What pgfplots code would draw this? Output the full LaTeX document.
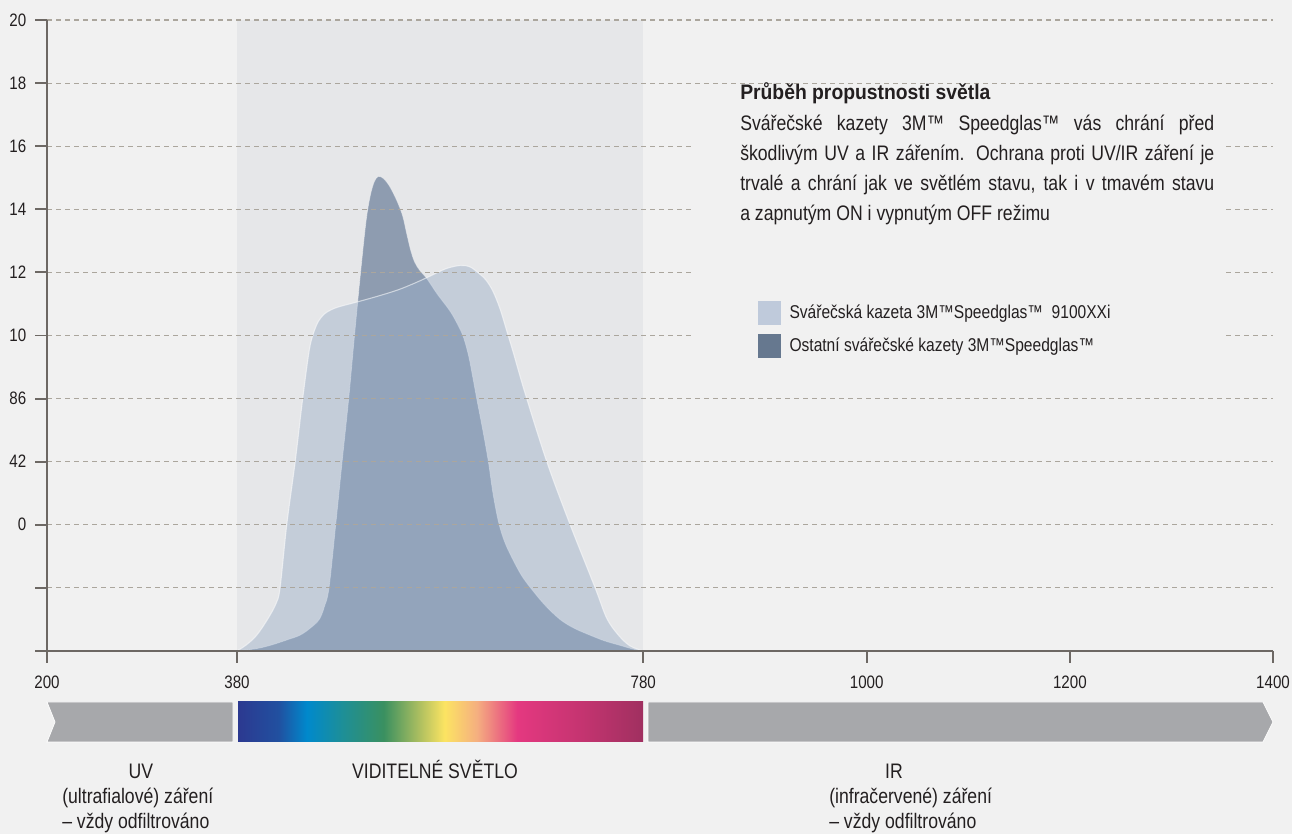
\documentclass[border=0pt]{standalone}
\usepackage{fontspec}
\setmainfont{Liberation Sans}[FakeStretch=0.84, BoldFeatures={FakeStretch=0.92}]
\usepackage{pgfplots}
\pgfplotsset{compat=1.18}
\definecolor{bg}{HTML}{F1F1F1}
\definecolor{bandcol}{HTML}{E6E7E9}
\definecolor{gridcol}{HTML}{ABA69D}
\definecolor{axiscol}{HTML}{6D6864}
\definecolor{txt}{HTML}{231F20}
\definecolor{lightbase}{HTML}{D5D6DB}
\definecolor{lightover}{HTML}{A0B9D7}
\definecolor{darkfill}{HTML}{8E9CB0}
\definecolor{legLight}{HTML}{BFCADB}
\definecolor{legDark}{HTML}{66788F}
\definecolor{barcol}{HTML}{A7A8AB}
\definecolor{sp0}{HTML}{2C3990}
\definecolor{sp1}{HTML}{2150A0}
\definecolor{sp2}{HTML}{0089CC}
\definecolor{sp3}{HTML}{1E8F96}
\definecolor{sp4}{HTML}{3A9060}
\definecolor{sp5}{HTML}{B0C060}
\definecolor{sp6}{HTML}{FCE462}
\definecolor{sp7}{HTML}{F5AF80}
\definecolor{sp8}{HTML}{E43880}
\definecolor{sp9}{HTML}{C43470}
\definecolor{sp10}{HTML}{A03060}
\pgfdeclarehorizontalshading{spectrum}{100bp}{color(0bp)=(sp0); color(25bp)=(sp0); color(30bp)=(sp1); color(33.5bp)=(sp2); color(38bp)=(sp3); color(43bp)=(sp4); color(47.5bp)=(sp5); color(50.5bp)=(sp6); color(54.5bp)=(sp7); color(59.5bp)=(sp8); color(67.5bp)=(sp9); color(75bp)=(sp10); color(100bp)=(sp10)}

\pgfplotstableread{
x y
380 0
389.5 0.1
399.4 0.25
410 0.5
418.4 0.75
422.4 1
429 2
437.3 3
444.7 4
451 4.75
455 5.02
460 5.22
466 5.34
473 5.41
481.5 5.46
498 5.53
518 5.62
538 5.72
555 5.83
570 5.94
586 6.06
600 6.11
609 6.09
617 6.0
625 5.88
632 5.7
639 5.42
646 5.05
652 4.73
663.7 4.08
685 3.0
708 2.0
732.6 1.0
744 0.52
755.6 0.25
767 0.08
780 0
}\lightdata

\pgfplotstableread{
x y
380 0
400 0.04
415 0.1
430 0.18
442 0.25
452 0.36
461 0.5
466 0.7
470.6 1
477.2 2
483.5 3
490 4
495.7 5
501.7 6
507 6.8
511 7.2
515 7.43
519 7.52
524 7.49
530 7.37
537 7.15
543 6.9
547 6.62
551 6.35
555 6.16
560 6.03
567 5.9
577 5.66
590 5.38
598 5.15
603 4.97
608 4.68
612 4.35
616 4.0
622 3.5
627.5 3.0
632 2.5
637.4 2.05
643 1.75
650 1.5
660 1.2
670 0.98
683 0.73
698 0.5
712 0.36
727.7 0.25
742 0.16
757 0.09
770 0.03
780 0
}\darkdata

\begin{document}
\begin{tikzpicture}[x=0.75pt,y=0.75pt]
\path[use as bounding box, fill=bg] (0,0) rectangle (1292,834);
\pgfplotsset{
  myframe/.style={
    at={(35.25pt,137.25pt)}, anchor=south west,
    scale only axis, width=919.5pt, height=473.25pt,
    x coord trafo/.code={\pgfmathparse{ifthenelse(##1<380,(##1-200)*1.055556,190+(##1-380)*1.015686)}},
    xmin=200, xmax=1400, ymin=0, ymax=10,
  }
}
\begin{axis}[
  myframe,
  xtick={200,380,780,1000,1200,1400},
  xticklabels={200,380,780,1000,1200,1400},
  ytick={0,1,2,3,4,5,6,7,8,9,10},
  yticklabels={,,0,42,86,10,12,14,16,18,20},
  axis x line=bottom, axis y line=left,
  axis line style={-, draw=axiscol, line width=1.4pt},
  tick align=outside, major tick length=9pt,
  tick style={draw=axiscol, line width=1.4pt},
  ymajorgrids,
  grid style={draw=gridcol, line width=0.8pt, dash pattern=on 3.75pt off 3pt},
  axis on top,
  /pgf/number format/assume math mode=true,
  ticklabel style={font=\fontsize{13.5}{15}\selectfont, text=txt},
  yticklabel style={xshift=-3pt},
  xticklabel style={yshift=-6pt},
]
\addplot[fill=bandcol, draw=none] coordinates {(380,0) (780,0) (780,10) (380,10)};
\addplot[fill=lightbase, draw=none, smooth, tension=0.55] table[x=x,y=y] {\lightdata};
\addplot[fill=darkfill, draw=white, draw opacity=0.4, line width=0.6pt, smooth, tension=0.55] table[x=x,y=y] {\darkdata};
\addplot[fill=lightover, fill opacity=0.3, draw=white, draw opacity=0.55, line width=0.8pt, smooth, tension=0.55] table[x=x,y=y] {\lightdata};
\end{axis}
% mask behind the text block
\fill[bg] (693,734) rectangle (1222,462);
\begin{axis}[
  myframe, hide axis,
  legend style={at={(axis description cs:0.5803,0.5547)}, anchor=north west,
    draw=none, fill=none, inner sep=0pt, outer sep=0pt, row sep=7.5pt,
    font=\fontsize{13.9}{15}\selectfont, text=txt,
    nodes={inner sep=0pt},
    /tikz/every odd column/.append style={column sep=6.4pt}},
  legend cell align=left,
]
\addlegendimage{legend image code/.code={\fill[legLight] (0pt,-8.6pt) rectangle (16.5pt,8.6pt);}}
\addlegendentry{Svářečská kazeta 3M™Speedglas™\ \ 9100XXi}
\addlegendimage{legend image code/.code={\fill[legDark] (0pt,-8.6pt) rectangle (16.5pt,8.6pt);}}
\addlegendentry{Ostatní svářečské kazety 3M™Speedglas™}
\end{axis}
\node[anchor=base west, inner sep=0pt, text=txt, font=\fontsize{15.75}{18}\selectfont\bfseries] at (740,734) {Průběh propustnosti světla};
\node[anchor=base west, inner sep=0pt, text=txt, text width=355.5pt, align=justify, font=\fontsize{15.75}{22.3}\selectfont] at (740,703) {Svářečské kazety 3M™ Speedglas™ vás chrání před\linebreak škodlivým UV a IR zářením. Ochrana proti UV/IR záření je\linebreak trvalé a chrání jak ve světlém stavu, tak i v tmavém stavu\linebreak a zapnutým ON i vypnutým OFF režimu};
% spectrum bar
\fill[barcol, draw=white, line width=0.6pt] (47,132) -- (233,132) -- (233,92) -- (47,92) -- (55,112) -- cycle;
\fill[shading=spectrum] (238,92) rectangle (643,132);
\fill[barcol, draw=white, line width=0.6pt] (648,132) -- (1263,132) -- (1273,112) -- (1263,92) -- (648,92) -- cycle;
\begin{scope}[every node/.style={inner sep=0pt, text=txt, font=\fontsize{15.75}{18}\selectfont}]
\node[anchor=base] at (141,55) {UV};
\node[anchor=base west] at (62,30) {(ultrafialové) záření};
\node[anchor=base west] at (62,5) {– vždy odfiltrováno};
\node[anchor=base] at (435,55) {VIDITELNÉ SVĚTLO};
\node[anchor=base] at (894,55) {IR};
\node[anchor=base west] at (829,30) {(infračervené) záření};
\node[anchor=base west] at (829,5) {– vždy odfiltrováno};
\end{scope}
\end{tikzpicture}
\end{document}
